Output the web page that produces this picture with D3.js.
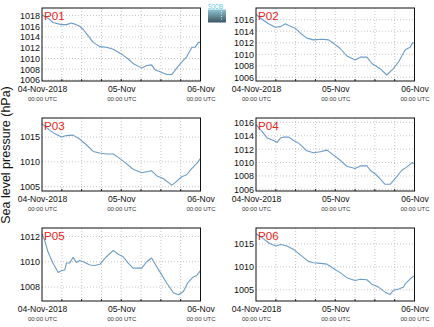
<!DOCTYPE html>
<html>
<head>
<meta charset="utf-8">
<script src="https://cdn.jsdelivr.net/npm/d3@7/dist/d3.min.js"></script>
<style>
html,body{margin:0;padding:0;background:#fff;}
svg{display:block;font-family:"Liberation Sans",Arial,Helvetica,sans-serif;}
</style>
</head>
<body>
<svg id="chart" width="434" height="327"></svg>
<script>
// ---- data ----
const startTime = "2018-11-04T00:00:00Z";
const stations = ["P01","P02","P03","P04","P05","P06"];
// hours after start and sea level pressure (hPa)
const p01Hours = [0,2.3,3.3,5.9,7.4,8.9,9.9,11.4,12.5,14,15.5,17.5,19.5,21.6,24.1,26.1,27.7,30.2,31.7,33.2,34.2,36.3,37.8,39.3,40.8,42.3,43.8,45.4,46.4,47.4,48];
const p01 = [1018.1,1017.3,1016.7,1016.3,1016.3,1016.6,1016.4,1016.0,1015.4,1014.2,1013.0,1012.2,1012.1,1011.7,1010.8,1009.9,1009.0,1008.2,1008.7,1008.8,1007.9,1007.4,1007.0,1007.0,1008.2,1009.3,1010.3,1012.1,1012.1,1013.0,1013.0];
const p02Hours = [0,2,3.8,5.8,7.4,8.9,9.9,11.9,13.4,15.4,17.4,20,22,23.5,25.5,27.5,30,31.6,33.6,35.1,37.6,39.6,41.6,43.2,45.2,46.7,47.4,48];
const p02 = [1016.9,1016.0,1015.3,1014.7,1014.8,1015.3,1015.0,1014.5,1013.7,1012.8,1012.5,1012.6,1012.5,1011.9,1011.0,1009.7,1009.0,1009.5,1009.5,1008.4,1007.5,1006.4,1007.5,1008.7,1010.8,1011.2,1012.0,1011.9];
const p03Hours = [0,2.3,3.8,5.9,7.4,9.4,11.4,13.5,15.5,17.5,19.5,21.6,23.1,25.1,27.6,30.2,31.7,33.2,34.7,36.8,39.3,40.3,42.3,43.8,45.4,46.9,48];
const p03 = [1017.7,1016.4,1015.7,1015.0,1015.3,1015.4,1014.6,1013.4,1012.1,1011.8,1011.6,1011.6,1010.9,1009.9,1008.5,1007.8,1008.0,1008.2,1007.2,1006.6,1005.3,1005.8,1007.0,1007.4,1008.7,1009.7,1010.7];
const p04Hours = [0,1.8,3.4,5.3,6.4,7.4,8.4,9.9,11.4,12.9,15.4,17.4,19.5,21.5,23.5,25.5,27.5,30,31.6,33.6,34.6,36.6,39.1,40.6,42.1,44.2,45.7,47.2,48];
const p04 = [1015.65,1014.65,1013.65,1013.3,1013.0,1013.65,1013.8,1013.8,1013.3,1012.9,1011.75,1011.45,1011.6,1011.85,1011.1,1010.35,1009.45,1009.1,1009.5,1009.5,1008.85,1008.1,1006.75,1006.75,1007.6,1008.85,1009.35,1009.95,1009.85];
const p05Hours = [0,0.8,1.8,3.3,4.9,5.9,6.9,7.4,8.4,9.4,10.4,11.4,12.5,14.5,16,17.5,19.5,21.6,23.1,24.6,26.1,27.6,30.2,31.7,33.2,34.2,35.7,37.8,39.8,41.3,42.8,44.3,45.8,46.8,48];
const p05 = [1012.2,1011.7,1010.8,1009.9,1009.15,1009.3,1009.35,1009.9,1009.9,1010.35,1009.95,1010.1,1010.0,1009.75,1009.7,1009.8,1010.4,1010.9,1010.6,1010.4,1009.9,1009.5,1009.5,1010.0,1010.3,1009.85,1009.2,1008.3,1007.55,1007.4,1007.65,1008.4,1008.8,1008.9,1009.3];
const p06Hours = [0,2,4,6,7.5,9.4,11.4,13.4,15.9,17.4,19.5,21.5,23,25.5,27.5,30,31.6,33.6,35.1,37.1,39.1,40.6,41.6,43.2,44.7,45.2,46.7,48];
const p06 = [1017.2,1016.25,1015.15,1014.55,1014.85,1014.55,1013.8,1012.6,1011.2,1010.9,1010.75,1010.6,1009.85,1008.75,1007.65,1007.05,1007.3,1007.2,1006.2,1005.6,1004.5,1004.0,1004.9,1005.2,1005.6,1006.3,1007.4,1008.1];
const seriesHours = [p01Hours,p02Hours,p03Hours,p04Hours,p05Hours,p06Hours];
const seriesValues = [p01,p02,p03,p04,p05,p06];
const yDomains = [[1005.8,1019.4],[1005.36,1018.03],[1004.12,1018.85],[1005.75,1016.65],[1006.9,1012.67],[1002.57,1018.46]];
const yTicks = [[1006,1008,1010,1012,1014,1016,1018],[1006,1008,1010,1012,1014,1016],[1005,1010,1015],[1006,1008,1010,1012,1014,1016],[1008,1010,1012],[1005,1010,1015]];
const xTickHours = [0,24,48];
const xTickLabels = ["04-Nov-2018","05-Nov","06-Nov"];
const xTickSub = ["00:00 UTC","00:00 UTC","00:00 UTC"];
const gridHours = [6,12,18,24,30,36,42];
const yTitle = "Sea level pressure (hPa)";

// ---- layout ----
const svg = d3.select("#chart");
const t0 = new Date(startTime);
const toDate = h => new Date(t0.getTime() + h*3600e3);
const colX = [42, 256];
const rowY = [8, 118, 228];
const pw = 158.5, ph = 73;
const lineColor = "#6b9cc9";

// logo
const defs = svg.append("defs");
const grad = defs.append("linearGradient").attr("id","lg").attr("x1",0).attr("y1",0).attr("x2",0).attr("y2",1);
grad.append("stop").attr("offset","0%").attr("stop-color","#8fc4d2");
grad.append("stop").attr("offset","100%").attr("stop-color","#3c5563");
svg.append("rect").attr("x",208).attr("y",9.5).attr("width",18).attr("height",13).attr("fill","url(#lg)");
svg.append("line").attr("x1",221.5).attr("x2",221.5).attr("y1",11).attr("y2",21)
  .attr("stroke","#fff").attr("stroke-width",0.8).attr("stroke-dasharray","1,1.5");
svg.append("text").attr("x",208).attr("y",9).attr("font-size",8).attr("fill","#4cc3dc")
  .attr("textLength",15).attr("lengthAdjust","spacingAndGlyphs").text("SOCIB");

stations.forEach((name, i) => {
  const px = colX[i % 2], py = rowY[Math.floor(i / 2)];
  const g = svg.append("g").attr("transform", `translate(${px},${py})`);
  const x = d3.scaleUtc().domain([toDate(0), toDate(48)]).range([0, pw]);
  const y = d3.scaleLinear().domain(yDomains[i]).range([ph, 0]);

  // grid
  g.append("g").selectAll("line").data(gridHours).join("line")
    .attr("x1", d => x(toDate(d))).attr("x2", d => x(toDate(d)))
    .attr("y1", 0).attr("y2", ph)
    .attr("stroke", "#b8b8b8").attr("stroke-width", 0.8).attr("stroke-dasharray", "1,2");
  g.append("g").selectAll("line").data(yTicks[i]).join("line")
    .attr("x1", 0).attr("x2", pw)
    .attr("y1", d => y(d)).attr("y2", d => y(d))
    .attr("stroke", "#b8b8b8").attr("stroke-width", 0.8).attr("stroke-dasharray", "1,2");

  // line
  const hrs = seriesHours[i];
  const line = d3.line().x((d, k) => x(toDate(hrs[k]))).y(d => y(d));
  g.append("path").datum(seriesValues[i]).attr("d", line)
    .attr("fill", "none").attr("stroke", lineColor).attr("stroke-width", 1.1)
    .attr("stroke-linejoin", "round");

  // y axis
  const ya = g.append("g").call(d3.axisLeft(y).tickValues(yTicks[i]).tickSize(0).tickPadding(2).tickFormat(d3.format("d")));
  ya.select(".domain").remove();
  ya.selectAll("text").attr("font-size", 9).attr("fill", "#111").attr("font-family", "Liberation Sans, Arial, sans-serif");

  // x axis
  const xa = g.append("g").attr("transform", `translate(0,${ph})`)
    .call(d3.axisBottom(x).tickValues(xTickHours.map(toDate)).tickSize(0).tickPadding(0).tickFormat(() => ""));
  xa.select(".domain").remove();
  xa.selectAll(".tick").each(function(d, k) {
    const t = d3.select(this);
    t.append("text").attr("y", 11).attr("text-anchor", "middle").attr("font-size", 8.6).attr("fill", "#111").text(xTickLabels[k]);
    t.append("text").attr("y", 19.5).attr("text-anchor", "middle").attr("font-size", 6).attr("fill", "#333").text(xTickSub[k]);
  });
  // minor ticks on bottom
  g.append("g").selectAll("line").data(gridHours).join("line")
    .attr("x1", d => x(toDate(d))).attr("x2", d => x(toDate(d)))
    .attr("y1", ph).attr("y2", ph - 2).attr("stroke", "#222").attr("stroke-width", 1);

  // frame
  g.append("rect").attr("x", 0).attr("y", 0).attr("width", pw).attr("height", ph)
    .attr("fill", "none").attr("stroke", "#111").attr("stroke-width", 1);

  // station label
  g.append("text").attr("x", 2).attr("y", 11.5).attr("font-size", 11.6).attr("fill", "#e8231a").text(name);
});

svg.append("text").attr("transform", "translate(10,155) rotate(-90)")
  .attr("text-anchor", "middle").attr("font-size", 12.5).attr("fill", "#111").text(yTitle);
</script>
</body>
</html>
